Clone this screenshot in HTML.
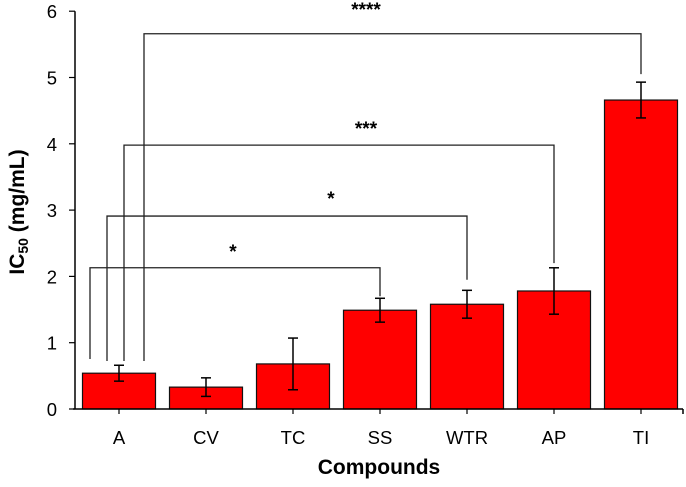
<!DOCTYPE html>
<html><head><meta charset="utf-8"><style>
body{margin:0;background:#fff;}
svg text{font-family:"Liberation Sans",Arial,sans-serif;}
</style></head><body>
<svg id="chart" width="686" height="482" viewBox="0 0 686 482"></svg>
<script>
const categories = ["A","CV","TC","SS","WTR","AP","TI"];
const values = [0.54,0.33,0.68,1.49,1.58,1.78,4.66];
const errors = [0.12,0.14,0.39,0.18,0.21,0.35,0.27];
const yTicks = [0,1,2,3,4,5,6];
const brackets = [
 {from:0, to:3, level:2.13, end:1.70, label:"*"},
 {from:0, to:4, level:2.91, end:1.95, label:"*"},
 {from:0, to:5, level:3.98, end:2.20, label:"***"},
 {from:0, to:6, level:5.66, end:5.05, label:"****"}
];
const NS="http://www.w3.org/2000/svg";
const svg=document.getElementById('chart');
const X0=75, Y0=409, PU=66.3, STEP=87, C0=119, BW=73;
const y=v=>Y0-v*PU;
const xc=i=>C0+i*STEP;
const bracketX=[90,107,124,144], bracketBottom=[359,361,361,361], starX=[233,331,366,366], starDy=[10,11,10,18];
function el(t,a,p){const e=document.createElementNS(NS,t);for(const k in a)e.setAttribute(k,a[k]);(p||svg).appendChild(e);return e;}
categories.forEach((c,i)=>{
 const b=el('rect',{x:xc(i)-BW/2,y:y(values[i]),width:BW,height:Y0-y(values[i]),fill:'#ff0000',stroke:'#111','stroke-width':1.2});
 
 
 const g=el('g',{stroke:'#000','stroke-width':1.5});
 
 
 const t=y(values[i]+errors[i]), bo=y(values[i]-errors[i]);
 el('line',{x1:xc(i),x2:xc(i),y1:t,y2:bo},g);
 el('line',{x1:xc(i)-5,x2:xc(i)+5,y1:t,y2:t},g);
 el('line',{x1:xc(i)-5,x2:xc(i)+5,y1:bo,y2:bo},g);
 const lt=el('text',{x:xc(i),y:444,'font-size':18.5,'text-anchor':'middle',fill:'#000'});
 lt.textContent=c;
 
 
 el('line',{x1:xc(i),x2:xc(i),y1:Y0,y2:Y0+5,stroke:'#000','stroke-width':1.2});
});
const ax=el('g',{stroke:'#000','stroke-width':1.5});


el('line',{x1:X0,x2:X0,y1:y(6),y2:Y0},ax);
el('line',{x1:X0-2,x2:683,y1:Y0,y2:Y0},ax);
el('line',{x1:683,x2:683,y1:Y0,y2:Y0+5},ax);
yTicks.forEach(v=>{
 el('line',{x1:X0-6,x2:X0,y1:y(v),y2:y(v),stroke:'#000','stroke-width':1.2});
 const t=el('text',{x:57,y:y(v)+7,'font-size':18.5,'text-anchor':'end',fill:'#000'});
 t.textContent=v;
 
 
});
brackets.forEach((b,k)=>{
 const g=el('g',{stroke:'#222','stroke-width':1.3,fill:'none'});
 
 
 const ly=y(b.level), xr=xc(b.to);
 el('polyline',{points:`${bracketX[k]},${bracketBottom[k]} ${bracketX[k]},${ly} ${xr},${ly} ${xr},${y(b.end)}`},g);
 const t=el('text',{x:starX[k],y:ly-starDy[k],'font-size':19,'font-weight':'bold','text-anchor':'middle',fill:'#000'});
 t.textContent=b.label;
 
 
});
const xt=el('text',{x:379,y:474,'font-size':21,'font-weight':'bold','text-anchor':'middle',fill:'#000'});
xt.textContent='Compounds';


const yt=el('text',{transform:'translate(24,212) rotate(-90)','font-size':21,'font-weight':'bold','text-anchor':'middle',fill:'#000'});
yt.innerHTML='IC<tspan font-size="14" dy="4">50</tspan><tspan dy="-4"> (mg/mL)</tspan>';


</script>
</body></html>
